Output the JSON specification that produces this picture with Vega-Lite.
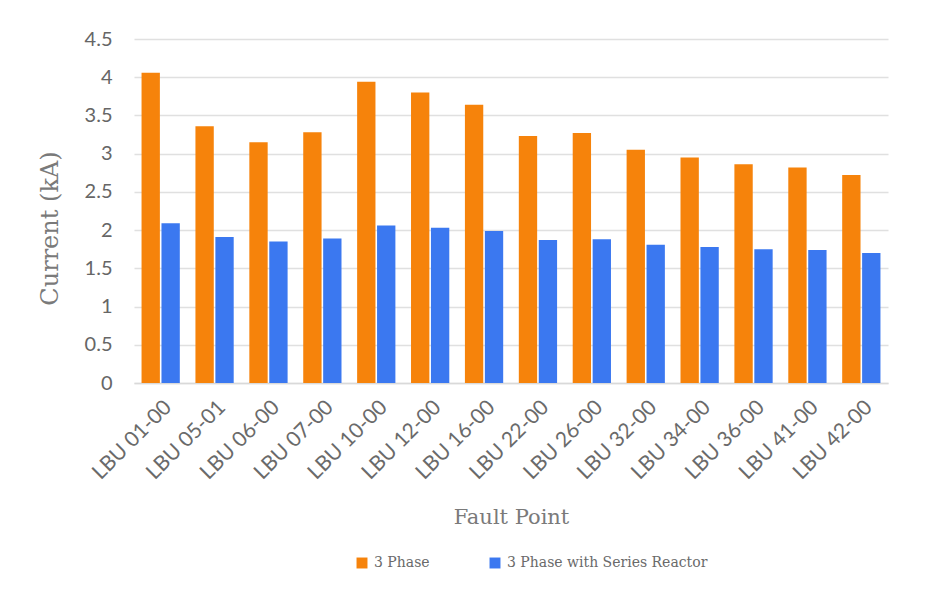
{
  "$schema": "https://vega.github.io/schema/vega-lite/v6.json",
  "autosize": {"type": "none"},
  "width": 754,
  "height": 344,
  "padding": {"left": 134, "top": 39, "right": 44, "bottom": 228},
  "background": "#ffffff",
  "config": {"view": {"stroke": null}},
  "data": {"values": [
    {"point": "LBU 01-00", "series": "3 Phase", "current": 4.06},
    {"point": "LBU 01-00", "series": "3 Phase with Series Reactor", "current": 2.09},
    {"point": "LBU 05-01", "series": "3 Phase", "current": 3.36},
    {"point": "LBU 05-01", "series": "3 Phase with Series Reactor", "current": 1.91},
    {"point": "LBU 06-00", "series": "3 Phase", "current": 3.15},
    {"point": "LBU 06-00", "series": "3 Phase with Series Reactor", "current": 1.85},
    {"point": "LBU 07-00", "series": "3 Phase", "current": 3.28},
    {"point": "LBU 07-00", "series": "3 Phase with Series Reactor", "current": 1.89},
    {"point": "LBU 10-00", "series": "3 Phase", "current": 3.94},
    {"point": "LBU 10-00", "series": "3 Phase with Series Reactor", "current": 2.06},
    {"point": "LBU 12-00", "series": "3 Phase", "current": 3.80},
    {"point": "LBU 12-00", "series": "3 Phase with Series Reactor", "current": 2.03},
    {"point": "LBU 16-00", "series": "3 Phase", "current": 3.64},
    {"point": "LBU 16-00", "series": "3 Phase with Series Reactor", "current": 1.99},
    {"point": "LBU 22-00", "series": "3 Phase", "current": 3.23},
    {"point": "LBU 22-00", "series": "3 Phase with Series Reactor", "current": 1.87},
    {"point": "LBU 26-00", "series": "3 Phase", "current": 3.27},
    {"point": "LBU 26-00", "series": "3 Phase with Series Reactor", "current": 1.88},
    {"point": "LBU 32-00", "series": "3 Phase", "current": 3.05},
    {"point": "LBU 32-00", "series": "3 Phase with Series Reactor", "current": 1.81},
    {"point": "LBU 34-00", "series": "3 Phase", "current": 2.95},
    {"point": "LBU 34-00", "series": "3 Phase with Series Reactor", "current": 1.78},
    {"point": "LBU 36-00", "series": "3 Phase", "current": 2.86},
    {"point": "LBU 36-00", "series": "3 Phase with Series Reactor", "current": 1.75},
    {"point": "LBU 41-00", "series": "3 Phase", "current": 2.82},
    {"point": "LBU 41-00", "series": "3 Phase with Series Reactor", "current": 1.74},
    {"point": "LBU 42-00", "series": "3 Phase", "current": 2.72},
    {"point": "LBU 42-00", "series": "3 Phase with Series Reactor", "current": 1.70}
  ]},
  "mark": {"type": "bar"},
  "encoding": {
    "x": {
      "field": "point", "type": "nominal", "sort": null,
      "scale": {"paddingInner": 0.29, "paddingOuter": 0.14},
      "axis": {
        "title": "Fault Point",
        "titleFont": "DejaVu Serif", "titleFontSize": 21, "titleFontWeight": "normal", "titleColor": "#7a7a7a",
        "titleY": 134, "titleBaseline": "middle",
        "labelAngle": -45, "labelFont": "Lato", "labelFontSize": 21, "labelColor": "#6a6a6a",
        "labelPadding": 13,
        "ticks": false, "domainColor": "#d9d9d9", "domainWidth": 1.5, "grid": false
      }
    },
    "xOffset": {"field": "series", "type": "nominal", "scale": {"paddingInner": 0.08}},
    "y": {
      "field": "current", "type": "quantitative",
      "scale": {"domain": [0, 4.5], "nice": false},
      "axis": {
        "title": "Current (kA)", "values": [0, 0.5, 1, 1.5, 2, 2.5, 3, 3.5, 4, 4.5],
        "labelExpr": "'' + datum.value",
        "titleFont": "DejaVu Serif", "titleFontSize": 24, "titleFontWeight": "normal", "titleColor": "#7a7a7a",
        "titleX": -84, "titleY": 189, "titleAngle": -90, "titleBaseline": "middle", "titleAlign": "center",
        "labelFont": "Lato", "labelFontSize": 20, "labelColor": "#666666", "labelPadding": 22,
        "ticks": false, "domain": false, "gridColor": "#e0e0e0", "gridWidth": 1.5
      }
    },
    "color": {
      "field": "series", "type": "nominal",
      "scale": {"domain": ["3 Phase", "3 Phase with Series Reactor"], "range": ["#F6830B", "#3B78F0"]},
      "legend": {
        "title": null, "orient": "none", "direction": "horizontal",
        "legendX": 221, "legendY": 517,
        "symbolType": "square", "symbolSize": 120, "symbolStrokeWidth": 0, "symbolOpacity": 1,
        "labelFont": "DejaVu Serif", "labelFontSize": 14, "labelColor": "#6a6a6a", "labelLimit": 400,
        "labelOffset": 5, "columnPadding": 58
      }
    }
  }
}
